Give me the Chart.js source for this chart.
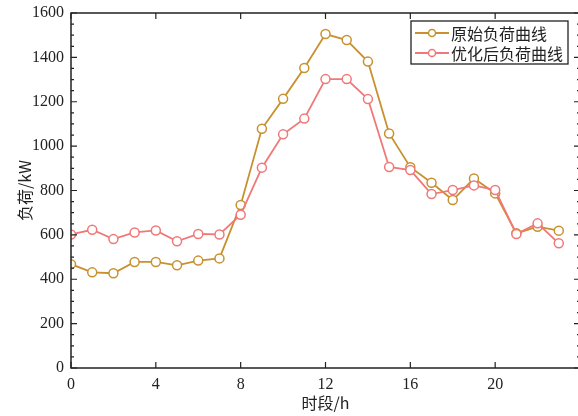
<!DOCTYPE html>
<html lang="zh">
<head>
<meta charset="UTF-8">
<title>负荷曲线</title>
<script src="https://cdn.jsdelivr.net/npm/chart.js@4.4.0/dist/chart.umd.min.js"></script>
<style>
  body {margin:0;padding:0;background:#fff;overflow:hidden;}
  #wrap {width:578px;height:416px;overflow:hidden;}
</style>
</head>
<body>
<div id="wrap"><canvas id="loadChart" width="582" height="416"></canvas></div>
<script>
    // data
    const hours = [0,1,2,3,4,5,6,7,8,9,10,11,12,13,14,15,16,17,18,19,20,21,22,23];
    const originalLoad = [468,431,427,478,478,463,484,494,735,1078,1213,1352,1505,1478,1381,1057,905,835,757,854,787,607,637,619];
    const optimizedLoad = [602,623,581,611,620,571,604,602,691,903,1053,1124,1302,1302,1212,906,892,784,802,823,802,604,652,562];
    const xTicks = [0,4,8,12,16,20];
    const yTicks = [0,200,400,600,800,1000,1200,1400,1600];

    const seriesNames = ['原始负荷曲线', '优化后负荷曲线'];
    const colors = ['#C8912F', '#F07878'];
    const serif = '"Liberation Serif", "Noto Sans CJK SC", serif';
    const cjk = '"Noto Sans CJK SC", "Liberation Serif", serif';

    function toPoints(arr) {
        return hours.map((h, i) => ({x: h, y: arr[i]}));
    }

    // drop the label overhang padding so the plot box sits where the layout puts it
    function noPad(s) {
        s.paddingLeft = 0; s.paddingRight = 0; s.paddingTop = 0; s.paddingBottom = 0;
    }

    // frame, inward ticks and the legend box
    const framePlugin = {
        id: 'frame',
        afterDraw(chart) {
            const ctx = chart.ctx;
            const a = chart.chartArea;
            const xs = chart.scales.x, ys = chart.scales.y;
            ctx.save();
            ctx.strokeStyle = '#222';
            ctx.lineWidth = 1.5;
            ctx.strokeRect(a.left, a.top, a.right - a.left, a.bottom - a.top);
            ctx.lineWidth = 1.2;
            ctx.beginPath();
            xTicks.forEach(v => {
                const px = xs.getPixelForValue(v);
                ctx.moveTo(px, a.bottom); ctx.lineTo(px, a.bottom - 6);
                ctx.moveTo(px, a.top); ctx.lineTo(px, a.top + 6);
            });
            for (let v = 0; v <= 1600; v += 50) {
                const py = ys.getPixelForValue(v);
                const len = (v % 200 === 0) ? 6 : 3;
                ctx.moveTo(a.left, py); ctx.lineTo(a.left + len, py);
                ctx.moveTo(a.right, py); ctx.lineTo(a.right - len, py);
            }
            ctx.stroke();

            // legend
            const lx = 411, ly = 21, lw = 157, lh = 43;
            ctx.fillStyle = '#fff';
            ctx.fillRect(lx, ly, lw, lh);
            ctx.lineWidth = 1.3;
            ctx.strokeStyle = '#222';
            ctx.strokeRect(lx, ly, lw, lh);
            ctx.font = '16px ' + cjk;
            ctx.textBaseline = 'middle';
            seriesNames.forEach((name, i) => {
                const cy = ly + 12 + i * 20;
                ctx.strokeStyle = colors[i];
                ctx.lineWidth = 1.8;
                ctx.beginPath();
                ctx.moveTo(lx + 4, cy); ctx.lineTo(lx + 38, cy);
                ctx.stroke();
                ctx.beginPath();
                ctx.fillStyle = '#fff';
                ctx.arc(lx + 21, cy, 3.5, 0, Math.PI * 2);
                ctx.fill();
                ctx.lineWidth = 1.5;
                ctx.stroke();
                ctx.fillStyle = '#222';
                ctx.fillText(name, lx + 40, cy + 1);
            });
            ctx.restore();
        }
    };

    const ctx = document.getElementById('loadChart');
    const loadChart = new Chart(ctx, {
        type: 'line',
        data: {
            datasets: [originalLoad, optimizedLoad].map((arr, i) => ({
                label: seriesNames[i],
                data: toPoints(arr),
                borderColor: colors[i],
                backgroundColor: '#fff',
                borderWidth: 1.8,
                pointRadius: 4.5,
                pointBorderWidth: 1.5,
                pointBackgroundColor: '#fff',
                pointBorderColor: colors[i],
                tension: 0
            })).reverse()
        },
        options: {
            responsive: false,
            animation: false,
            layout: {autoPadding: false, padding: {top: 13, right: 2, left: 0, bottom: 0}},
            plugins: {
                legend: {display: false},
                tooltip: {enabled: false}
            },
            scales: {
                x: {
                    type: 'linear',
                    min: 0,
                    max: 24,
                    afterBuildTicks: s => { s.ticks = xTicks.map(v => ({value: v})); },
                    afterFit: s => { s.height = 48; noPad(s); },
                    grid: {display: false, drawTicks: false},
                    border: {display: false},
                    ticks: {
                        color: '#222',
                        padding: 7,
                        maxRotation: 0,
                        font: {family: serif, size: 16}
                    },
                    title: {
                        display: true,
                        text: '时段/h',
                        color: '#222',
                        padding: {top: 2, bottom: 3},
                        font: {family: cjk, size: 16}
                    }
                },
                y: {
                    min: 0,
                    max: 1600,
                    afterBuildTicks: s => { s.ticks = yTicks.map(v => ({value: v})); },
                    afterFit: s => { s.width = 71; noPad(s); },
                    grid: {display: false, drawTicks: false},
                    border: {display: false},
                    ticks: {
                        color: '#222',
                        padding: 7,
                        callback: v => String(v),
                        font: {family: serif, size: 16}
                    },
                    title: {
                        display: true,
                        text: '负荷/kW',
                        color: '#222',
                        padding: {top: 15, bottom: 0},
                        font: {family: cjk, size: 16}
                    }
                }
            }
        },
        plugins: [framePlugin]
    });
</script>
</body>
</html>
